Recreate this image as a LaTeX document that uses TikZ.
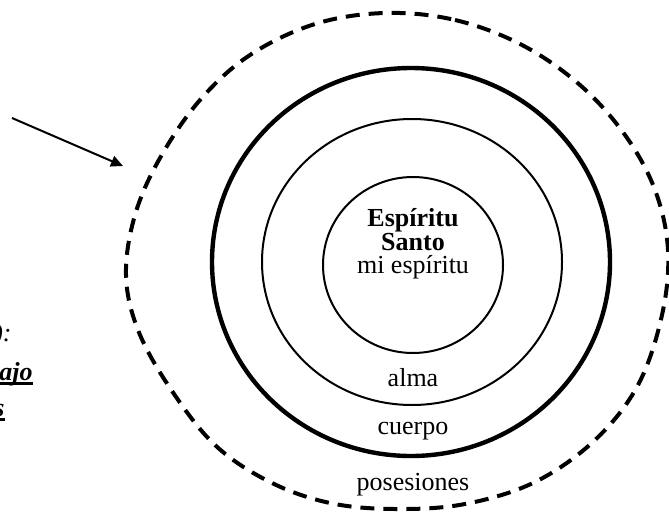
\documentclass[tikz,border=0pt]{standalone}
\usepackage{fontspec}
\setmainfont{Liberation Serif}
\usetikzlibrary{arrows.meta}
\begin{document}
\begin{tikzpicture}[x=0.5pt,y=-0.5pt,
  lbl/.style={anchor=base,inner sep=0pt,font=\fontsize{13}{15}\selectfont},
  frag/.style={anchor=base east,inner sep=0pt,font=\fontsize{13}{15}\selectfont},
  ring/.style={line width=1pt},
  thickring/.style={line width=2.2pt},
  dashring/.style={line width=2pt,dash pattern=on 7pt off 4.5pt},
  pointer/.style={line width=1pt,-{Triangle[length=6pt,width=5.5pt]}}]
\useasboundingbox (0,0) rectangle (669,514);
\begin{scope}
\clip (0,0) rectangle (669,514);
% outer dashed ring (posesiones)
\draw[dashring] plot[smooth cycle,tension=0.6] coordinates {
  (385,13) (455,20) (522,45) (580,85) (625,135) (655,190) (668,250)
  (662,315) (638,385) (595,440) (535,482) (465,504) (395,509) (330,503)
  (270,482) (215,445) (170,388) (138,330) (126,275) (135,215) (160,158)
  (200,100) (250,55) (315,24)};
% body ring (thick)
\draw[thickring] (411,262) ellipse [x radius=99.5pt, y radius=97pt];
% soul ring
\draw[ring] (412,262) ellipse [x radius=75pt, y radius=71.5pt];
% spirit ring
\draw[ring] (413,265) ellipse [x radius=45pt, y radius=44pt];
% labels
\node[lbl,font=\fontsize{13}{15}\selectfont\bfseries] (esp) at (413,226) {Espíritu};
\node[lbl,font=\fontsize{13}{15}\selectfont\bfseries] (santo) at (413,250) {Santo};
\node[lbl] (mi) at (413,273) {mi espíritu};
\node[lbl] (alma) at (413,386) {alma};
\node[lbl] (cuerpo) at (413,434) {cuerpo};
\node[lbl] (pos) at (413,490) {posesiones};
% cut-off text at the left edge
\node[frag,font=\fontsize{13}{15}\selectfont\itshape] (t1) at (12,341) {o):};
\node[frag,font=\fontsize{13}{15}\selectfont\bfseries\itshape] (t2) at (33,380) {ajo};
\draw[line width=1.4pt] ([yshift=-1.6pt]t2.base west) -- ([yshift=-1.6pt]t2.base east);
\node[frag,font=\fontsize{13}{15}\selectfont\bfseries\itshape] (t3) at (5,416) {s};
\draw[line width=1.4pt] ([yshift=-1.8pt]t3.base west) -- ([yshift=-1.8pt]t3.base east);
% arrow
\coordinate (a0) at (12,118);
\coordinate (a1) at (123,166);
\draw[pointer] (a0) -- (a1);
\end{scope}
\end{tikzpicture}
\end{document}
